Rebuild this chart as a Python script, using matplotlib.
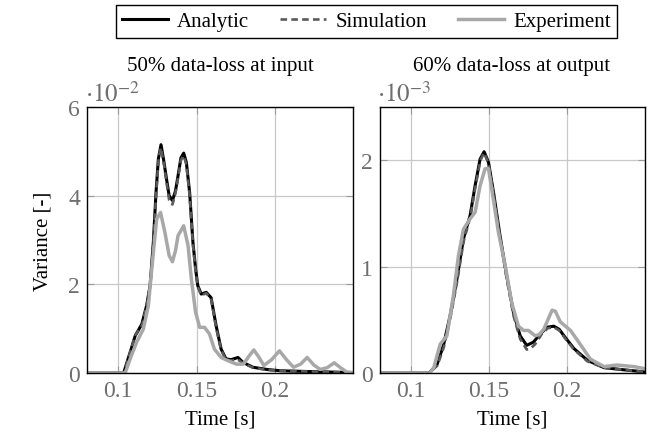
import matplotlib
matplotlib.use('Agg')
import matplotlib.pyplot as plt
from matplotlib.ticker import FuncFormatter

plt.rcParams['font.family'] = ['Liberation Serif', 'DejaVu Serif']
plt.rcParams['mathtext.fontset'] = 'stix'

# --- left panel: 50% data-loss at input (values in 1e-2) ---
t_in_analytic = [0.080, 0.1034, 0.1076, 0.1108, 0.115, 0.1181, 0.1203, 0.1224, 0.1241, 0.1256,
                 0.1273, 0.129, 0.1308, 0.1325, 0.1346, 0.1365, 0.1382, 0.140, 0.1418, 0.1435,
                 0.1456, 0.1477, 0.1494, 0.1508, 0.153, 0.1562, 0.1593, 0.1625, 0.1657, 0.1688,
                 0.172, 0.1765, 0.1797, 0.186, 0.195, 0.2035, 0.225, 0.25]
v_in_analytic = [0, 0, 0.47, 0.84, 1.1, 1.52, 1.97, 2.95, 4.07, 4.83,
                 5.15, 4.8, 4.38, 4.0, 3.89, 4.1, 4.45, 4.85, 4.96, 4.75,
                 4.07, 2.95, 2.35, 1.97, 1.78, 1.82, 1.7, 1.07, 0.54, 0.32,
                 0.3, 0.35, 0.24, 0.13, 0.08, 0.05, 0.03, 0.01]

t_in_sim = [0.080, 0.1036, 0.1078, 0.111, 0.1152, 0.1183, 0.1205, 0.1226, 0.1243, 0.1258,
            0.1272, 0.129, 0.1308, 0.1325, 0.1346, 0.1365, 0.1382, 0.140, 0.1418, 0.1435,
            0.1456, 0.1477, 0.1494, 0.1508, 0.153, 0.1562, 0.1593, 0.1625, 0.1657, 0.1688,
            0.172, 0.1765, 0.1797, 0.186, 0.195, 0.2035, 0.225, 0.25]
v_in_sim = [0, 0, 0.5, 0.86, 1.08, 1.55, 2.0, 3.0, 4.1, 4.85,
            5.08, 4.75, 4.3, 3.9, 3.8, 4.05, 4.4, 4.8, 4.9, 4.7,
            4.0, 2.9, 2.3, 1.95, 1.75, 1.8, 1.68, 1.02, 0.52, 0.3,
            0.28, 0.3, 0.22, 0.12, 0.07, 0.05, 0.03, 0.01]

t_in_exp = [0.080, 0.1044, 0.1076, 0.1118, 0.116, 0.1192, 0.1214, 0.1245, 0.127, 0.1298,
            0.1325, 0.1346, 0.1365, 0.1382, 0.1418, 0.1446, 0.1467, 0.1494, 0.152, 0.1551,
            0.1583, 0.1614, 0.1657, 0.1699, 0.1755, 0.180, 0.1835, 0.1866, 0.190, 0.193,
            0.198, 0.203, 0.2075, 0.212, 0.2165, 0.2207, 0.225, 0.229, 0.2335, 0.238,
            0.242, 0.246, 0.25]
v_in_exp = [0, 0, 0.32, 0.7, 0.99, 1.52, 2.35, 3.47, 3.62, 3.17,
            2.65, 2.51, 2.75, 3.1, 3.32, 2.87, 2.12, 1.37, 1.03, 1.03,
            0.88, 0.54, 0.35, 0.28, 0.2, 0.2, 0.38, 0.52, 0.35, 0.17,
            0.3, 0.5, 0.3, 0.13, 0.2, 0.35, 0.18, 0.08, 0.12, 0.23,
            0.12, 0.02, 0.01]

# --- right panel: 60% data-loss at output (values in 1e-3) ---
t_out_analytic = [0.080, 0.1113, 0.1122, 0.1166, 0.1207, 0.125, 0.1293, 0.1335, 0.1378, 0.141,
                  0.1442, 0.1468, 0.1496, 0.1528, 0.157, 0.1613, 0.1656, 0.1699, 0.1741, 0.1784,
                  0.183, 0.1872, 0.1915, 0.195, 0.198, 0.2044, 0.213, 0.2237, 0.2365, 0.25]
v_out_analytic = [0, 0, 0.01, 0.08, 0.26, 0.54, 0.88, 1.26, 1.48, 1.76,
                  2.01, 2.08, 1.98, 1.70, 1.29, 0.91, 0.57, 0.35, 0.26, 0.29,
                  0.37, 0.43, 0.44, 0.41, 0.35, 0.23, 0.12, 0.05, 0.03, 0.01]

t_out_sim = [0.080, 0.1115, 0.1124, 0.1168, 0.1209, 0.1252, 0.1295, 0.1337, 0.138, 0.1412,
             0.1444, 0.1468, 0.1496, 0.1528, 0.157, 0.1613, 0.1656, 0.1699, 0.1741, 0.1765,
             0.1795, 0.1835, 0.1875, 0.1915, 0.195, 0.198, 0.2044, 0.213, 0.2237, 0.2365, 0.25]
v_out_sim = [0, 0, 0.01, 0.07, 0.24, 0.52, 0.86, 1.24, 1.47, 1.75,
             2.0, 2.07, 1.97, 1.68, 1.27, 0.88, 0.54, 0.32, 0.22, 0.23,
             0.27, 0.36, 0.42, 0.43, 0.4, 0.34, 0.22, 0.11, 0.05, 0.03, 0.01]

t_out_exp = [0.080, 0.112, 0.1145, 0.1186, 0.1229, 0.1271, 0.1303, 0.1335, 0.1378, 0.141,
             0.1442, 0.1474, 0.1496, 0.1517, 0.156, 0.1603, 0.1645, 0.1688, 0.172, 0.1752,
             0.1795, 0.182, 0.185, 0.1904, 0.1925, 0.1957, 0.2022, 0.2075, 0.215, 0.2237,
             0.232, 0.243, 0.25]
v_out_exp = [0, 0, 0.05, 0.27, 0.35, 0.73, 1.1, 1.35, 1.45, 1.51,
             1.76, 1.92, 1.92, 1.73, 1.32, 1.01, 0.66, 0.44, 0.4, 0.4,
             0.35, 0.36, 0.41, 0.59, 0.58, 0.48, 0.4, 0.29, 0.13, 0.06,
             0.075, 0.06, 0.04]

x_ticks = [0.1, 0.15, 0.2]
x_ticklabels = ['0.1', '0.15', '0.2']
y_ticks_in = [0, 2, 4, 6]
y_ticks_out = [0, 1, 2]

C_ANA = 'black'
C_SIM = '#5a5a5a'
C_EXP = '#a8a8a8'
TICK_GRAY = '#6e6e6e'
FS = 15
FS_TICK = 17

W, H = 662, 435
fig = plt.figure(figsize=(W / 100, H / 100), dpi=100)

ax1 = fig.add_axes([87 / W, 1 - 374 / H, 266 / W, 266 / H])
ax2 = fig.add_axes([380 / W, 1 - 374 / H, 265 / W, 266 / H])


def style(ax, yticks, ymax):
    ax.set_xlim(0.08, 0.25)
    ax.set_ylim(0, ymax)
    ax.set_xticks(x_ticks)
    ax.set_xticklabels(x_ticklabels)
    ax.set_yticks(yticks)
    ax.yaxis.set_major_formatter(FuncFormatter(lambda v, p: f'{v:g}'))
    ax.grid(True, color='#c8c8c8', lw=0.9)
    ax.set_axisbelow(True)
    ax.tick_params(direction='in', length=5, width=0.8, color='#9a9a9a',
                   top=True, right=True, labelsize=FS_TICK, labelcolor=TICK_GRAY, pad=5)
    for s in ax.spines.values():
        s.set_color('black')
        s.set_linewidth(1.0)
    ax.set_xlabel('Time [s]', fontsize=FS, labelpad=6)


l1, = ax1.plot(t_in_analytic, v_in_analytic, color=C_ANA, lw=2.2, label='Analytic')
l2, = ax1.plot(t_in_sim, v_in_sim, color=C_SIM, lw=1.9, ls=(0, (2.5, 1.6)), label='Simulation')
l3, = ax1.plot(t_in_exp, v_in_exp, color=C_EXP, lw=2.5, label='Experiment')
style(ax1, y_ticks_in, 6)

ax2.plot(t_out_analytic, v_out_analytic, color=C_ANA, lw=2.2)
ax2.plot(t_out_sim, v_out_sim, color=C_SIM, lw=1.9, ls=(0, (2.5, 1.6)))
ax2.plot(t_out_exp, v_out_exp, color=C_EXP, lw=2.5)
style(ax2, y_ticks_out, 2.5)

ax1.set_ylabel('Variance [-]', fontsize=FS, labelpad=11)

# titles and scale factors
fig.text(220 / W, 1 - 67 / H, '50% data-loss at input', fontsize=FS, ha='center', va='center')
fig.text(512 / W, 1 - 67 / H, '60% data-loss at output', fontsize=FS, ha='center', va='center')
fig.text(85 / W, 1 - 94 / H, r'$\cdot 10^{-2}$', fontsize=18, color=TICK_GRAY, ha='left', va='center')
fig.text(377 / W, 1 - 94 / H, r'$\cdot 10^{-3}$', fontsize=18, color=TICK_GRAY, ha='left', va='center')

leg = fig.legend(handles=[l1, l2, l3], loc='center', bbox_to_anchor=(366.5 / W, 1 - 22.5 / H),
                 ncol=3, fontsize=FS, frameon=True, fancybox=False, framealpha=1,
                 edgecolor='black', handlelength=2.2, columnspacing=1.5, handletextpad=0.45,
                 borderpad=0.3, borderaxespad=0)
leg.get_frame().set_linewidth(1.0)

fig.savefig('out.png', dpi=100)
